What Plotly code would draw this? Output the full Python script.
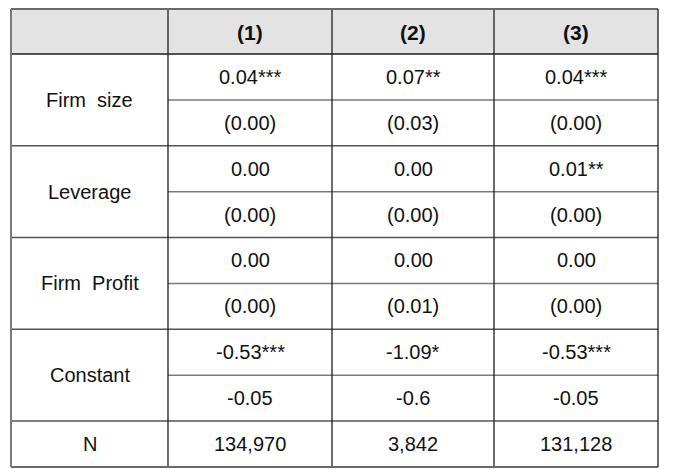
import plotly.graph_objects as go

# ---- data ----
col_headers = ["", "(1)", "(2)", "(3)"]
variables = ["Firm\u00a0 size", "Leverage", "Firm\u00a0 Profit", "Constant"]
coef_1 = ["0.04***", "0.00", "0.00", "-0.53***"]
coef_2 = ["0.07**", "0.00", "0.00", "-1.09*"]
coef_3 = ["0.04***", "0.01**", "0.00", "-0.53***"]
se_1 = ["(0.00)", "(0.00)", "(0.00)", "-0.05"]
se_2 = ["(0.03)", "(0.00)", "(0.01)", "-0.6"]
se_3 = ["(0.00)", "(0.00)", "(0.00)", "-0.05"]
n_label = "N"
n_obs = ["134,970", "3,842", "131,128"]

# ---- layout geometry (pixel-like axis units) ----
W, H = 678, 469
col_edges = [11, 168, 332, 494, 658]
header_top, header_bot = 9, 54
row_h = (421 - 54) / 8.0
n_sub = 2 * len(variables) + 1
row_edges = [header_bot + i * row_h for i in range(n_sub)] + [467]

FONT = "Liberation Sans, Arial, sans-serif"
FS = 20
TXT = "#111111"

fig = go.Figure()
shapes = []
annotations = []

# header fill
shapes.append(dict(type="rect", x0=col_edges[0], x1=col_edges[-1], y0=header_top, y1=header_bot,
                   fillcolor="#e3e3e3", line=dict(width=0), layer="below"))

def ann(x, y, text, bold=False, size=FS):
    annotations.append(dict(x=x, y=y, xref="x", yref="y", text=f"<b>{text}</b>" if bold else text,
                            showarrow=False, xanchor="center", yanchor="middle",
                            font=dict(family=FONT, size=size, color=TXT)))

def cx(i):
    return (col_edges[i] + col_edges[i + 1]) / 2

# header texts
for i, h in enumerate(col_headers):
    if h:
        ann(cx(i), (header_top + header_bot) / 2 + 1, h, bold=True, size=21)

coefs = [coef_1, coef_2, coef_3]
ses = [se_1, se_2, se_3]
for r, var in enumerate(variables):
    y0 = row_edges[2 * r]
    y1 = row_edges[2 * r + 1]
    y2 = row_edges[2 * r + 2]
    ann(cx(0), (y0 + y2) / 2, var)
    for c in range(3):
        ann(cx(c + 1), (y0 + y1) / 2, coefs[c][r])
        ann(cx(c + 1), (y1 + y2) / 2, ses[c][r])

# N row
yN0, yN1 = row_edges[-2], row_edges[-1]
ann(cx(0), (yN0 + yN1) / 2, n_label)
for c in range(3):
    ann(cx(c + 1), (yN0 + yN1) / 2, n_obs[c])

GRAY = "#7a7a7a"
DARK = "#1e1e1e"

# horizontal lines
shapes.append(dict(type="line", x0=col_edges[0], x1=col_edges[-1], y0=header_bot, y1=header_bot,
                   line=dict(color=DARK, width=1.3)))
for k in range(1, n_sub):
    y = row_edges[k]
    if k % 2 == 1 and k < n_sub - 1:
        shapes.append(dict(type="line", x0=col_edges[1], x1=col_edges[-1], y0=y, y1=y,
                           line=dict(color=GRAY, width=1.5)))
    else:
        shapes.append(dict(type="line", x0=col_edges[0], x1=col_edges[-1], y0=y, y1=y,
                           line=dict(color="#555555", width=1.5)))

# vertical inner lines
for x in col_edges[1:-1]:
    shapes.append(dict(type="line", x0=x, x1=x, y0=header_top, y1=row_edges[-1],
                       line=dict(color=DARK, width=1.3)))

# outer border
shapes.append(dict(type="line", x0=col_edges[0], x1=col_edges[-1], y0=header_top, y1=header_top,
                   line=dict(color="#6a6a6a", width=2)))
shapes.append(dict(type="line", x0=col_edges[0], x1=col_edges[-1], y0=row_edges[-1], y1=row_edges[-1],
                   line=dict(color="#6a6a6a", width=2)))
shapes.append(dict(type="line", x0=col_edges[0], x1=col_edges[0], y0=header_top, y1=row_edges[-1],
                   line=dict(color="#7a7a7a", width=2)))
shapes.append(dict(type="line", x0=col_edges[-1], x1=col_edges[-1], y0=header_top, y1=row_edges[-1],
                   line=dict(color=DARK, width=1.3)))

fig.update_layout(
    width=W, height=H,
    margin=dict(l=0, r=0, t=0, b=0),
    paper_bgcolor="white", plot_bgcolor="white",
    xaxis=dict(range=[0, W], visible=False, fixedrange=True),
    yaxis=dict(range=[H, 0], visible=False, fixedrange=True),
    shapes=shapes, annotations=annotations,
    showlegend=False,
)

fig.write_html("out.html", config={"displayModeBar": False},
               post_script="document.body.style.margin='0';document.body.style.overflow='hidden';")
